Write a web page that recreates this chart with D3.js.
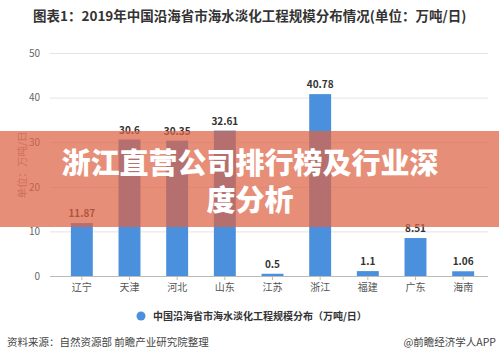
<!DOCTYPE html>
<html>
<head>
<meta charset="utf-8">
<script src="https://cdn.jsdelivr.net/npm/d3@7"></script>
<style>
  body { margin: 0; background: #fff; }
  svg text { font-family: "Noto Sans CJK SC", "Noto Sans", sans-serif; }
</style>
</head>
<body>
<div id="chart"></div>
<script>
const provinces = ["辽宁", "天津", "河北", "山东", "江苏", "浙江", "福建", "广东", "海南"];
const scale = [11.87, 30.6, 30.35, 32.61, 0.5, 40.78, 1.1, 8.51, 1.06];
const labels = ["11.87", "30.6", "30.35", "32.61", "0.5", "40.78", "1.1", "8.51", "1.06"];
const yTicks = [0, 10, 20, 30, 40, 50];

const width = 499, height = 362;

let svg = d3.select("#chart")
    .append("svg")
    .attr("width", width)
    .attr("height", height);

let x = d3.scaleBand().domain(provinces).range([58, 487]).paddingInner(0.54).paddingOuter(0.27);
let y = d3.scaleLinear().domain([0, 50]).range([276, 53]);

// title
svg.append("text")
    .attr("x", 33).attr("y", 21)
    .attr("font-size", 13.5).attr("font-weight", "bold").attr("fill", "#333")
    .text("图表1：2019年中国沿海省市海水淡化工程规模分布情况(单位：万吨/日)");

// grid + y labels
let yAxis = svg.append("g")
    .attr("transform", "translate(50,0)")
    .call(d3.axisLeft(y).tickValues(yTicks).tickSize(-438).tickPadding(10));
yAxis.select(".domain").remove();
yAxis.selectAll(".tick line").attr("stroke", "#e3e3e3");
yAxis.selectAll(".tick text").attr("font-size", 10).attr("fill", "#666");

svg.append("text")
    .attr("transform", "translate(26,165) rotate(-90)")
    .attr("text-anchor", "middle")
    .attr("font-size", 10.5).attr("fill", "#999")
    .text("单位：万吨/日");

// bars
svg.selectAll(".bar")
    .data(provinces)
    .enter()
    .append("rect")
    .attr("x", d => x(d))
    .attr("y", (d, i) => y(scale[i]))
    .attr("width", x.bandwidth())
    .attr("height", (d, i) => y(0) - y(scale[i]))
    .attr("fill", "#4a90dc");

svg.selectAll(".val")
    .data(provinces)
    .enter()
    .append("text")
    .attr("x", d => x(d) + x.bandwidth() / 2)
    .attr("y", (d, i) => y(scale[i]) - 6)
    .attr("text-anchor", "middle")
    .attr("font-size", 10).attr("font-weight", "bold").attr("fill", "#333")
    .text((d, i) => labels[i]);

// x axis
let xAxis = svg.append("g")
    .attr("transform", "translate(0,276)")
    .call(d3.axisBottom(x).tickSize(4).tickPadding(4));
xAxis.select(".domain").attr("d", "M50,0.5H488").attr("stroke", "#bbb");
xAxis.selectAll(".tick line").attr("stroke", "#bbb");
xAxis.selectAll(".tick text").attr("font-size", 10).attr("fill", "#555");

// legend
svg.append("circle").attr("cx", 141).attr("cy", 316).attr("r", 4.5).attr("fill", "#4a90dc");
svg.append("text")
    .attr("x", 153).attr("y", 320)
    .attr("font-size", 10).attr("font-weight", "bold").attr("fill", "#333")
    .text("中国沿海省市海水淡化工程规模分布（万吨/日）");

// source
svg.append("text")
    .attr("x", 7).attr("y", 346)
    .attr("font-size", 10.5).attr("fill", "#444")
    .text("资料来源：自然资源部 前瞻产业研究院整理");
svg.append("text")
    .attr("x", 496).attr("y", 346)
    .attr("text-anchor", "end")
    .attr("font-size", 10.5).attr("fill", "#444")
    .text("@前瞻经济学人APP");

// overlay banner
svg.append("rect")
    .attr("x", 0).attr("y", 131).attr("width", width).attr("height", 96)
    .attr("fill", "rgb(222,98,68)").attr("opacity", 0.72);
svg.append("text")
    .attr("x", 250).attr("y", 174)
    .attr("text-anchor", "middle")
    .attr("font-size", 29).attr("font-weight", 900).attr("fill", "#fff")
    .text("浙江直营公司排行榜及行业深");
svg.append("text")
    .attr("x", 250).attr("y", 211)
    .attr("text-anchor", "middle")
    .attr("font-size", 29).attr("font-weight", 900).attr("fill", "#fff")
    .text("度分析");
</script>
</body>
</html>
